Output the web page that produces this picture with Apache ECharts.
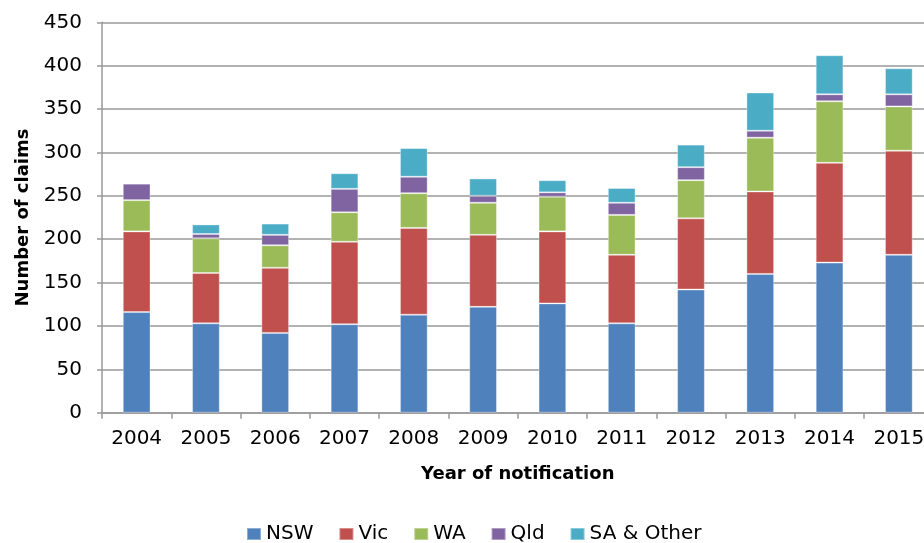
<!DOCTYPE html>
<html>
<head>
<meta charset="utf-8">
<script src="https://cdn.jsdelivr.net/npm/echarts@6/dist/echarts.min.js"></script>
<style>
  html, body { margin: 0; padding: 0; background: #fff; }
  #chart { width: 924px; height: 543px; }
</style>
</head>
<body>
<div id="chart"></div>
<script>
// 数据
const years = ['2004', '2005', '2006', '2007', '2008', '2009', '2010', '2011', '2012', '2013', '2014', '2015'];
const nsw = [116, 103, 92, 102, 113, 122, 126, 103, 142, 160, 173, 182];
const vic = [93, 58, 75, 95, 100, 83, 83, 79, 82, 95, 115, 120];
const wa = [36, 40, 26, 34, 40, 37, 40, 46, 44, 62, 71, 51];
const qld = [19, 5, 12, 27, 19, 8, 5, 14, 15, 8, 8, 14];
const saOther = [1, 11, 13, 18, 33, 20, 14, 17, 26, 44, 45, 30];
const yTicks = { min: 0, max: 450, interval: 50 };

const seriesList = [
  { name: 'NSW', data: nsw, color: '#4F81BD' },
  { name: 'Vic', data: vic, color: '#C0504D' },
  { name: 'WA', data: wa, color: '#9BBB59' },
  { name: 'Qld', data: qld, color: '#8064A2' },
  { name: 'SA & Other', data: saOther, color: '#4BACC6' }
];

const font = 'DejaVu Sans';
let chart = echarts.init(document.getElementById('chart'));
chart.setOption({
  animation: false,
  textStyle: { fontFamily: font },
  // 图表右侧超出画布（2015 被截断）
  grid: {
    left: 102, top: 22.3, height: 390.4, width: 831.5,
    containLabel: false, outerBoundsMode: 'none'
  },
  legend: {
    top: 519,
    left: 241,
    itemWidth: 14,
    itemHeight: 12,
    itemGap: 25,
    icon: 'rect',
    textStyle: { fontFamily: font, fontSize: 20, color: '#000' },
    data: seriesList.map(s => s.name)
  },
  xAxis: {
    type: 'category',
    data: years,
    name: 'Year of notification',
    nameLocation: 'middle',
    nameGap: 53,
    nameTextStyle: { fontFamily: font, fontSize: 18, fontWeight: 'bold', color: '#000' },
    axisLine: { lineStyle: { color: '#999', width: 1.5 } },
    axisTick: { show: true, length: 6, lineStyle: { color: '#999', width: 1.5 } },
    axisLabel: { fontFamily: font, fontSize: 20, color: '#000', margin: 16 }
  },
  yAxis: {
    type: 'value',
    min: yTicks.min,
    max: yTicks.max,
    interval: yTicks.interval,
    name: 'Number of claims',
    nameLocation: 'middle',
    nameGap: 70,
    nameTextStyle: { fontFamily: font, fontSize: 18, fontWeight: 'bold', color: '#000' },
    axisLine: { show: true, lineStyle: { color: '#999', width: 1.5 } },
    axisTick: { show: true, length: 5, lineStyle: { color: '#999', width: 1.5 } },
    axisLabel: { fontFamily: font, fontSize: 20, color: '#000', margin: 20 },
    splitLine: { lineStyle: { color: '#999', width: 1.5 } }
  },
  series: seriesList.map(s => ({
    name: s.name,
    type: 'bar',
    stack: 'total',
    barWidth: '40%',
    data: s.data,
    itemStyle: { color: s.color, borderColor: 'rgba(255,255,255,0.35)', borderWidth: 1 }
  }))
});
</script>
</body>
</html>
